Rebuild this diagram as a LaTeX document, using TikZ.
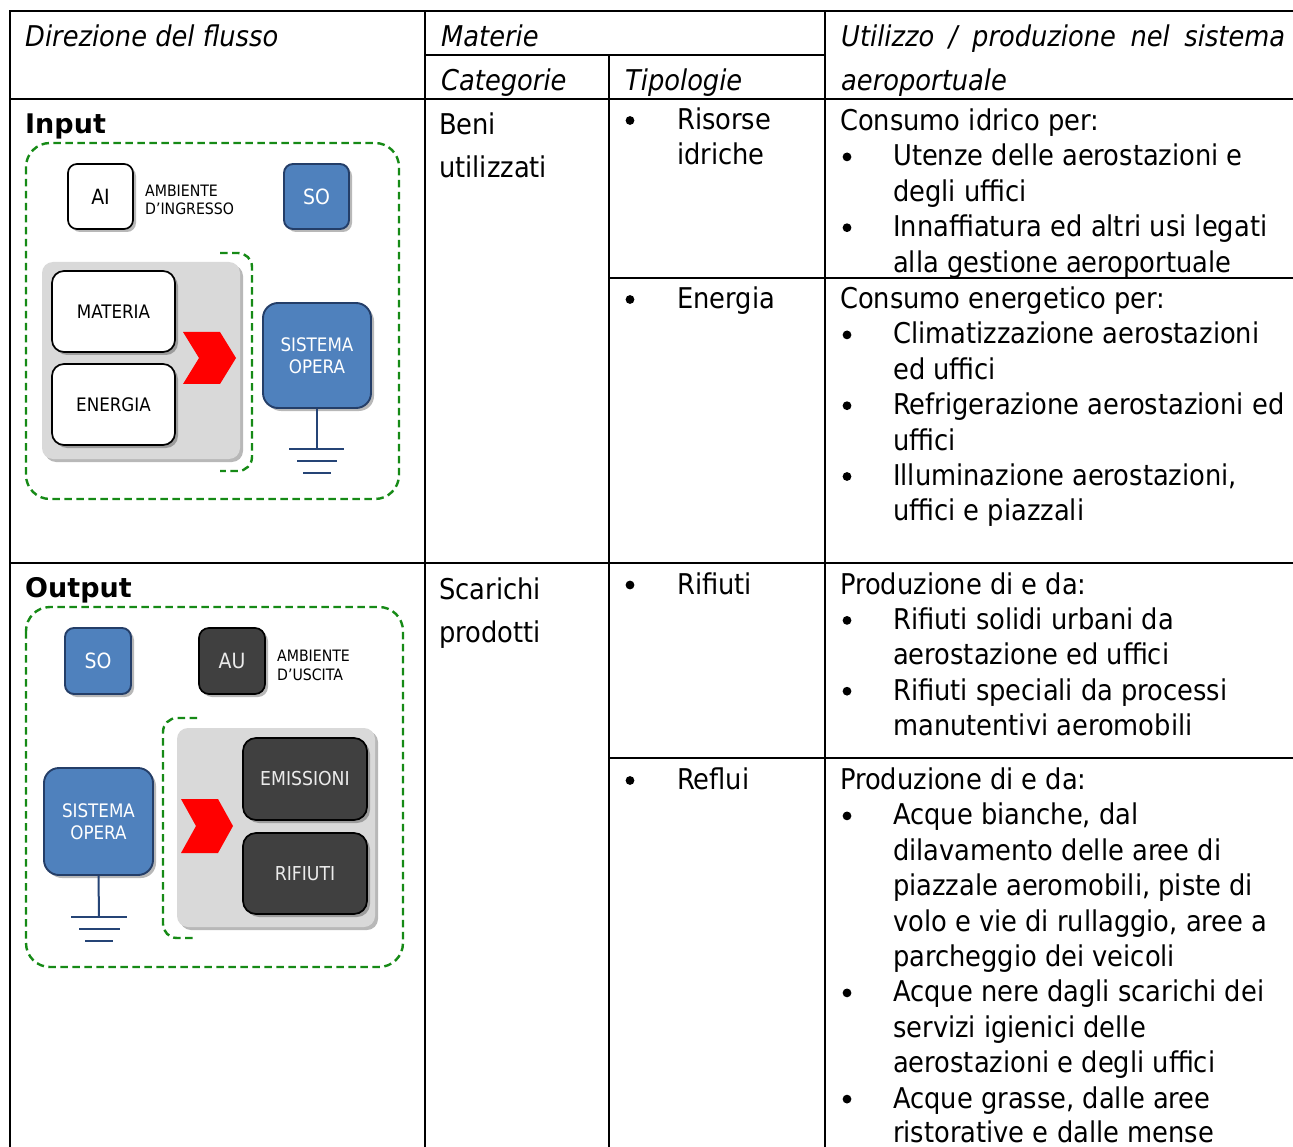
\documentclass[tikz,border=0pt]{standalone}
\usepackage{fontspec}
\setmainfont{DejaVu Sans Condensed}
\newfontfamily\widefont{DejaVu Sans}
\usetikzlibrary{shadows}
\definecolor{boxblue}{RGB}{79,129,189}
\definecolor{boxblueline}{RGB}{36,62,104}
\definecolor{darkbox}{RGB}{64,64,64}
\definecolor{panelgrey}{RGB}{217,217,217}
\definecolor{dashgreen}{RGB}{22,138,22}
\definecolor{groundblue}{RGB}{37,68,118}
\newcommand\TL[4]{\node[txt] (#1) at (#2,#3) {#4};}
\newcommand\RH[3]{\node[txt] (#1) at (840,#2) {#3};}
\newcommand\RB[3]{\node[bul] (#1b) at (847,#2-9) {};\node[txt] (#1) at (893,#2) {#3};}
\newcommand\RC[3]{\node[txt] (#1) at (893,#2) {#3};}
\newcommand\TB[3]{\node[bul] (#1b) at (630,#2-9) {};\node[txt] (#1) at (677,#2) {#3};}
\begin{document}
\begin{tikzpicture}[x=1pt,y=-1pt,
  gridline/.style={line width=2.6pt, draw=black, line cap=rect},
  txt/.style={anchor=base west, inner sep=0pt, font=\fontsize{28.6}{34}\selectfont},
  hdr/.style={anchor=base west, inner sep=0pt, font=\fontsize{28.6}{34}\selectfont\itshape},
  ttl/.style={anchor=base west, inner sep=0pt, font=\widefont\bfseries\fontsize{27}{30}\selectfont},
  bul/.style={circle, fill=black, inner sep=0pt, minimum size=8.8pt},
  shad/.style={drop shadow={shadow xshift=3pt, shadow yshift=-3pt, opacity=0.28, fill=black}},
  wbox/.style={shad, draw=black, line width=1.7pt, fill=white, rounded corners=9pt, inner sep=0pt, align=center, font=\fontsize{18.6}{22}\selectfont},
  bbox/.style={shad, draw=boxblueline, line width=1.9pt, fill=boxblue, text=white, rounded corners=9pt, inner sep=0pt, align=center, font=\fontsize{18.6}{22}\selectfont},
  dbox/.style={shad, draw=black, line width=1.7pt, fill=darkbox, text=white!92!black, rounded corners=10pt, inner sep=0pt, align=center, font=\fontsize{19.2}{22}\selectfont},
  panel/.style={shad, fill=panelgrey, rounded corners=11pt, inner sep=0pt},
  small/.style={anchor=base west, inner sep=0pt, align=left, font=\fontsize{15.7}{18.5}\selectfont},
  dashframe/.style={draw=dashgreen, line width=2.4pt, dash pattern=on 7.5pt off 4.5pt, rounded corners=24pt},
  dashbrack/.style={draw=dashgreen, line width=2.4pt, dash pattern=on 7.5pt off 4.5pt, rounded corners=14pt},
  gnd/.style={draw=groundblue, line width=2pt},
  chev/.style={fill=red}
]
\useasboundingbox (0,0) rectangle (1293,1147);
\fill[white] (0,0) rectangle (1293,1147);

% ---------- table grid ----------
\draw[gridline] (10,11) -- (1293,11);
\draw[gridline] (10,99) -- (1293,99);
\draw[gridline] (10,563) -- (1293,563);
\draw[gridline] (425,55) -- (825,55);
\draw[gridline] (609,278) -- (1293,278);
\draw[gridline] (609,758) -- (1293,758);
\draw[gridline] (10,11) -- (10,1150);
\draw[gridline] (425,11) -- (425,1150);
\draw[gridline] (609,55) -- (609,1150);
\draw[gridline] (825,11) -- (825,1150);

% ---------- headers ----------
\node[hdr] (h1) at (25,46.5) {Direzione del flusso};
\node[hdr] (h2) at (441,46.5) {Materie};
\node[hdr] (h3) at (841,46.5) {\makebox[444pt][s]{Utilizzo / produzione nel sistema}};
\node[hdr] (h4) at (441,90.5) {Categorie};
\node[hdr] (h5) at (625,90.5) {Tipologie};
\node[hdr] (h6) at (841,90.5) {aeroportuale};

% ---------- titles ----------
\node[ttl] (tin) at (25,133.5) {Input};
\node[ttl] (tout) at (25,597.5) {Output};

% ---------- categorie ----------
\TL{cat1}{439}{135}{Beni}
\TL{cat2}{439}{178}{utilizzati}
\TL{cat3}{439}{599}{Scarichi}
\TL{cat4}{439}{642}{prodotti}

% ---------- tipologie ----------
\TB{tp1}{129.5}{Risorse}
\TL{tp1c}{677}{165}{idriche}
\TB{tp2}{308.5}{Energia}
\TB{tp3}{594}{Rifiuti}
\TB{tp4}{789.5}{Reflui}

% ---------- utilizzo: risorse idriche ----------
\RH{a0}{130.5}{Consumo idrico per:}
\RB{a1}{165.9}{Utenze delle aerostazioni e}
\RC{a2}{201.3}{degli uffici}
\RB{a3}{236.7}{Innaffiatura ed altri usi legati}
\RC{a4}{272.1}{alla gestione aeroportuale}

% ---------- energia ----------
\RH{e0}{308.5}{Consumo energetico per:}
\RB{e1}{343.9}{Climatizzazione aerostazioni}
\RC{e2}{379.3}{ed uffici}
\RB{e3}{414.7}{Refrigerazione aerostazioni ed}
\RC{e4}{450.1}{uffici}
\RB{e5}{485.5}{Illuminazione aerostazioni,}
\RC{e6}{520.9}{uffici e piazzali}

% ---------- rifiuti ----------
\RH{r0}{594}{Produzione di e da:}
\RB{r1}{629.4}{Rifiuti solidi urbani da}
\RC{r2}{664.8}{aerostazione ed uffici}
\RB{r3}{700.2}{Rifiuti speciali da processi}
\RC{r4}{735.6}{manutentivi aeromobili}

% ---------- reflui ----------
\RH{f0}{789.5}{Produzione di e da:}
\RB{f1}{824.9}{Acque bianche, dal}
\RC{f2}{860.3}{dilavamento delle aree di}
\RC{f3}{895.7}{piazzale aeromobili, piste di}
\RC{f4}{931.1}{volo e vie di rullaggio, aree a}
\RC{f5}{966.5}{parcheggio dei veicoli}
\RB{f6}{1001.9}{Acque nere dagli scarichi dei}
\RC{f7}{1037.3}{servizi igienici delle}
\RC{f8}{1072.7}{aerostazioni e degli uffici}
\RB{f9}{1108.1}{Acque grasse, dalle aree}
\RC{f10}{1142.5}{ristorative e dalle mense}

% ================= INPUT DIAGRAM =================
\draw[dashframe] (26,143) rectangle (399,499);
\node[wbox, minimum width=65pt, minimum height=65pt, font=\fontsize{21}{24}\selectfont] (ai) at (100.5,196.5) {AI};
\node[small] (aiL) at (145,215) {AMBIENTE\\D’INGRESSO};
\node[bbox, minimum width=65pt, minimum height=65pt, font=\fontsize{21}{24}\selectfont] (soI) at (316.5,196.5) {SO};
\draw[dashbrack] (220,253) -- (252,253) -- (252,471) -- (220,471);
\node[panel, minimum width=198pt, minimum height=197pt] (panI) at (141,360.5) {};
\node[wbox, minimum width=123pt, minimum height=81pt, rounded corners=12pt] (mat) at (113.5,311.5) {MATERIA};
\node[wbox, minimum width=123pt, minimum height=81pt, rounded corners=12pt] (ene) at (113.5,404.5) {ENERGIA};
\fill[chev] (183,332) -- (220,332) -- (236,358) -- (220,384) -- (183,384) -- (199,358) -- cycle;
\node[bbox, minimum width=108pt, minimum height=105pt, rounded corners=15pt] (sysI) at (317,355.5) {SISTEMA\\OPERA};
\coordinate (gI) at (317,449);
\draw[gnd] (sysI.south) -- (gI);
\draw[gnd] (289,449) -- (344,449);
\draw[gnd] (297,461) -- (337,461);
\draw[gnd] (303,473) -- (331,473);

% ================= OUTPUT DIAGRAM =================
\draw[dashframe] (26,607) rectangle (403,967);
\node[bbox, minimum width=66pt, minimum height=66pt, font=\fontsize{21}{24}\selectfont] (soO) at (98,661) {SO};
\node[dbox, minimum width=66pt, minimum height=66pt, font=\fontsize{21}{24}\selectfont] (au) at (232,661) {AU};
\node[small] (auL) at (277,680) {AMBIENTE\\D’USCITA};
\draw[dashbrack] (197,718) -- (163,718) -- (163,938) -- (197,938);
\node[panel, minimum width=198pt, minimum height=199pt] (panO) at (276,827.5) {};
\node[dbox, minimum width=124pt, minimum height=82pt, rounded corners=13pt] (emi) at (305,779) {EMISSIONI};
\node[dbox, minimum width=124pt, minimum height=81pt, rounded corners=13pt] (rif) at (305,873.5) {RIFIUTI};
\fill[chev] (181,799) -- (218,799) -- (233,826) -- (218,853) -- (181,853) -- (196,826) -- cycle;
\node[bbox, minimum width=109pt, minimum height=107pt, rounded corners=15pt] (sysO) at (98.5,821.5) {SISTEMA\\OPERA};
\coordinate (gO) at (99,917);
\draw[gnd] (sysO.south) -- (gO);
\draw[gnd] (71,917) -- (127,917);
\draw[gnd] (79,929) -- (120,929);
\draw[gnd] (85,941) -- (113,941);
\end{tikzpicture}
\end{document}
